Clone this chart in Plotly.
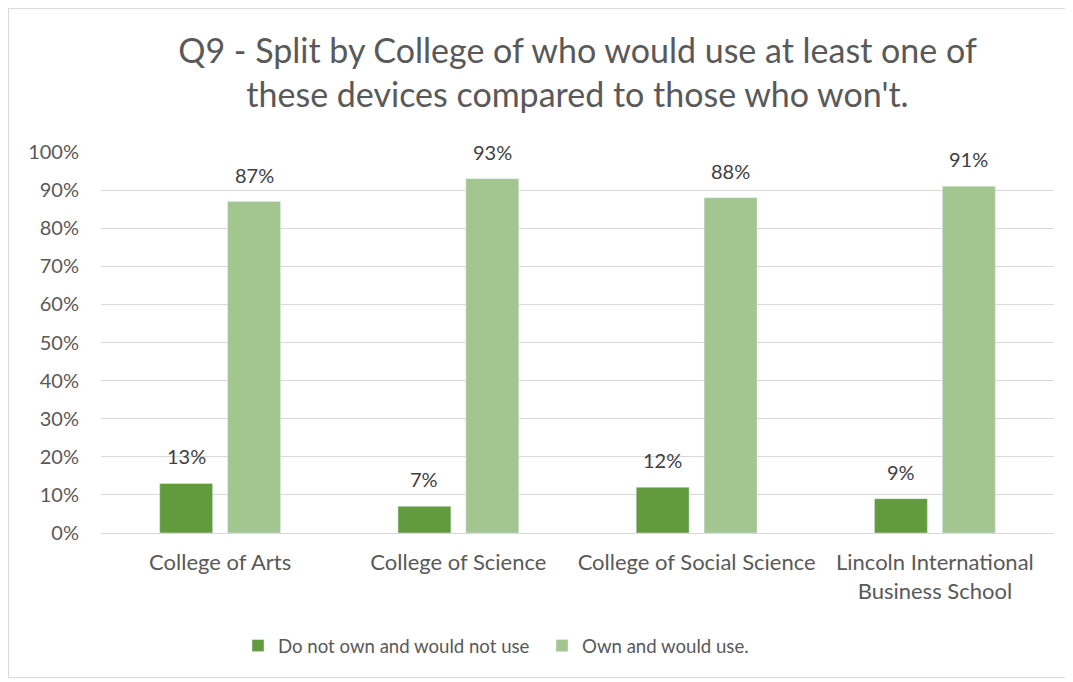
import plotly.graph_objects as go

categories = ["College of Arts", "College of Science", "College of Social Science",
              "Lincoln International<br>Business School"]
not_use = [0.13, 0.07, 0.12, 0.09]
own_use = [0.87, 0.93, 0.88, 0.91]
series_names = ["Do not own and would not use", "Own and would use."]
tick_vals = [0, 0.1, 0.2, 0.3, 0.4, 0.5, 0.6, 0.7, 0.8, 0.9, 1.0]
tick_text = ["0%", "10%", "20%", "30%", "40%", "50%", "60%", "70%", "80%", "90%", "100%"]
title = "Q9 - Split by College of who would use at least one of<br>these devices compared to those who won't."

DARK = "#629A3E"
LIGHT = "#A3C590"
FONT = "Lato, 'Open Sans', sans-serif"

fig = go.Figure()
fig.add_trace(go.Bar(x=categories, y=not_use, name=series_names[0], marker_color=DARK,
                     hoverinfo="skip", legend="legend", showlegend=True))
fig.add_trace(go.Bar(x=categories, y=own_use, name=series_names[1], marker_color=LIGHT,
                     hoverinfo="skip", legend="legend2", showlegend=True))

annotations = []
for cat, a, b in zip(categories, not_use, own_use):
    for val, shift in ((a, -34), (b, 34)):
        annotations.append(dict(x=cat, y=val, xref="x", yref="y", text=f"{round(val*100)}%",
                                showarrow=False, xshift=shift, yshift=27,
                                font=dict(family=FONT, size=20, color="#404040")))

# page body has an 8px margin; figure coordinates are offset accordingly
OFF = 8
W, H = 1073 - OFF, 682 - OFF
L, T = 101 - OFF, 152 - OFF
R = W - (1054 - OFF)
B = H - (533 - OFF)
pw, ph = W - L - R, H - T - B
fig.add_shape(type="rect", xref="paper", yref="paper",
              x0=(0.5 - L) / pw, x1=(1059 - L) / pw,
              y0=(H - B - 669.5) / ph, y1=(H - B - 0.5) / ph,
              line=dict(color="#D9D9D9", width=1), fillcolor="rgba(0,0,0,0)", layer="below")

legend_common = dict(orientation="h", xanchor="left", y=-(646 - 533) / ph, yanchor="middle",
                     font=dict(size=18.6, color="#595959"), itemwidth=30,
                     bgcolor="rgba(0,0,0,0)", visible=True)

fig.update_layout(
    width=W, height=H,
    margin=dict(l=L, r=R, t=T, b=B),
    paper_bgcolor="white", plot_bgcolor="white",
    showlegend=True,
    barmode="group", bargap=0.43, bargroupgap=0.22,
    title=dict(text=title, x=0.5, xref="paper", xanchor="center",
               y=(H - 55) / H, yref="container", yanchor="middle",
               font=dict(family=FONT, size=34, color="#595959")),
    font=dict(family=FONT, color="#595959"),
    xaxis=dict(showgrid=False, showline=True, linecolor="#D9D9D9", linewidth=1,
               tickfont=dict(size=22, color="#595959"), ticks="outside", ticklen=10,
               tickcolor="rgba(0,0,0,0)"),
    yaxis=dict(range=[0, 1.0], tickvals=tick_vals, ticktext=tick_text,
               showgrid=True, gridcolor="#D9D9D9", gridwidth=1, zeroline=False,
               tickfont=dict(size=20, color="#595959"), ticks="outside", ticklen=17,
               tickcolor="rgba(0,0,0,0)"),
    legend=dict(x=(238 - 101) / pw, **legend_common),
    legend2=dict(x=(542 - 101) / pw, **legend_common),
    annotations=annotations,
)

fig.write_html("out.html")
